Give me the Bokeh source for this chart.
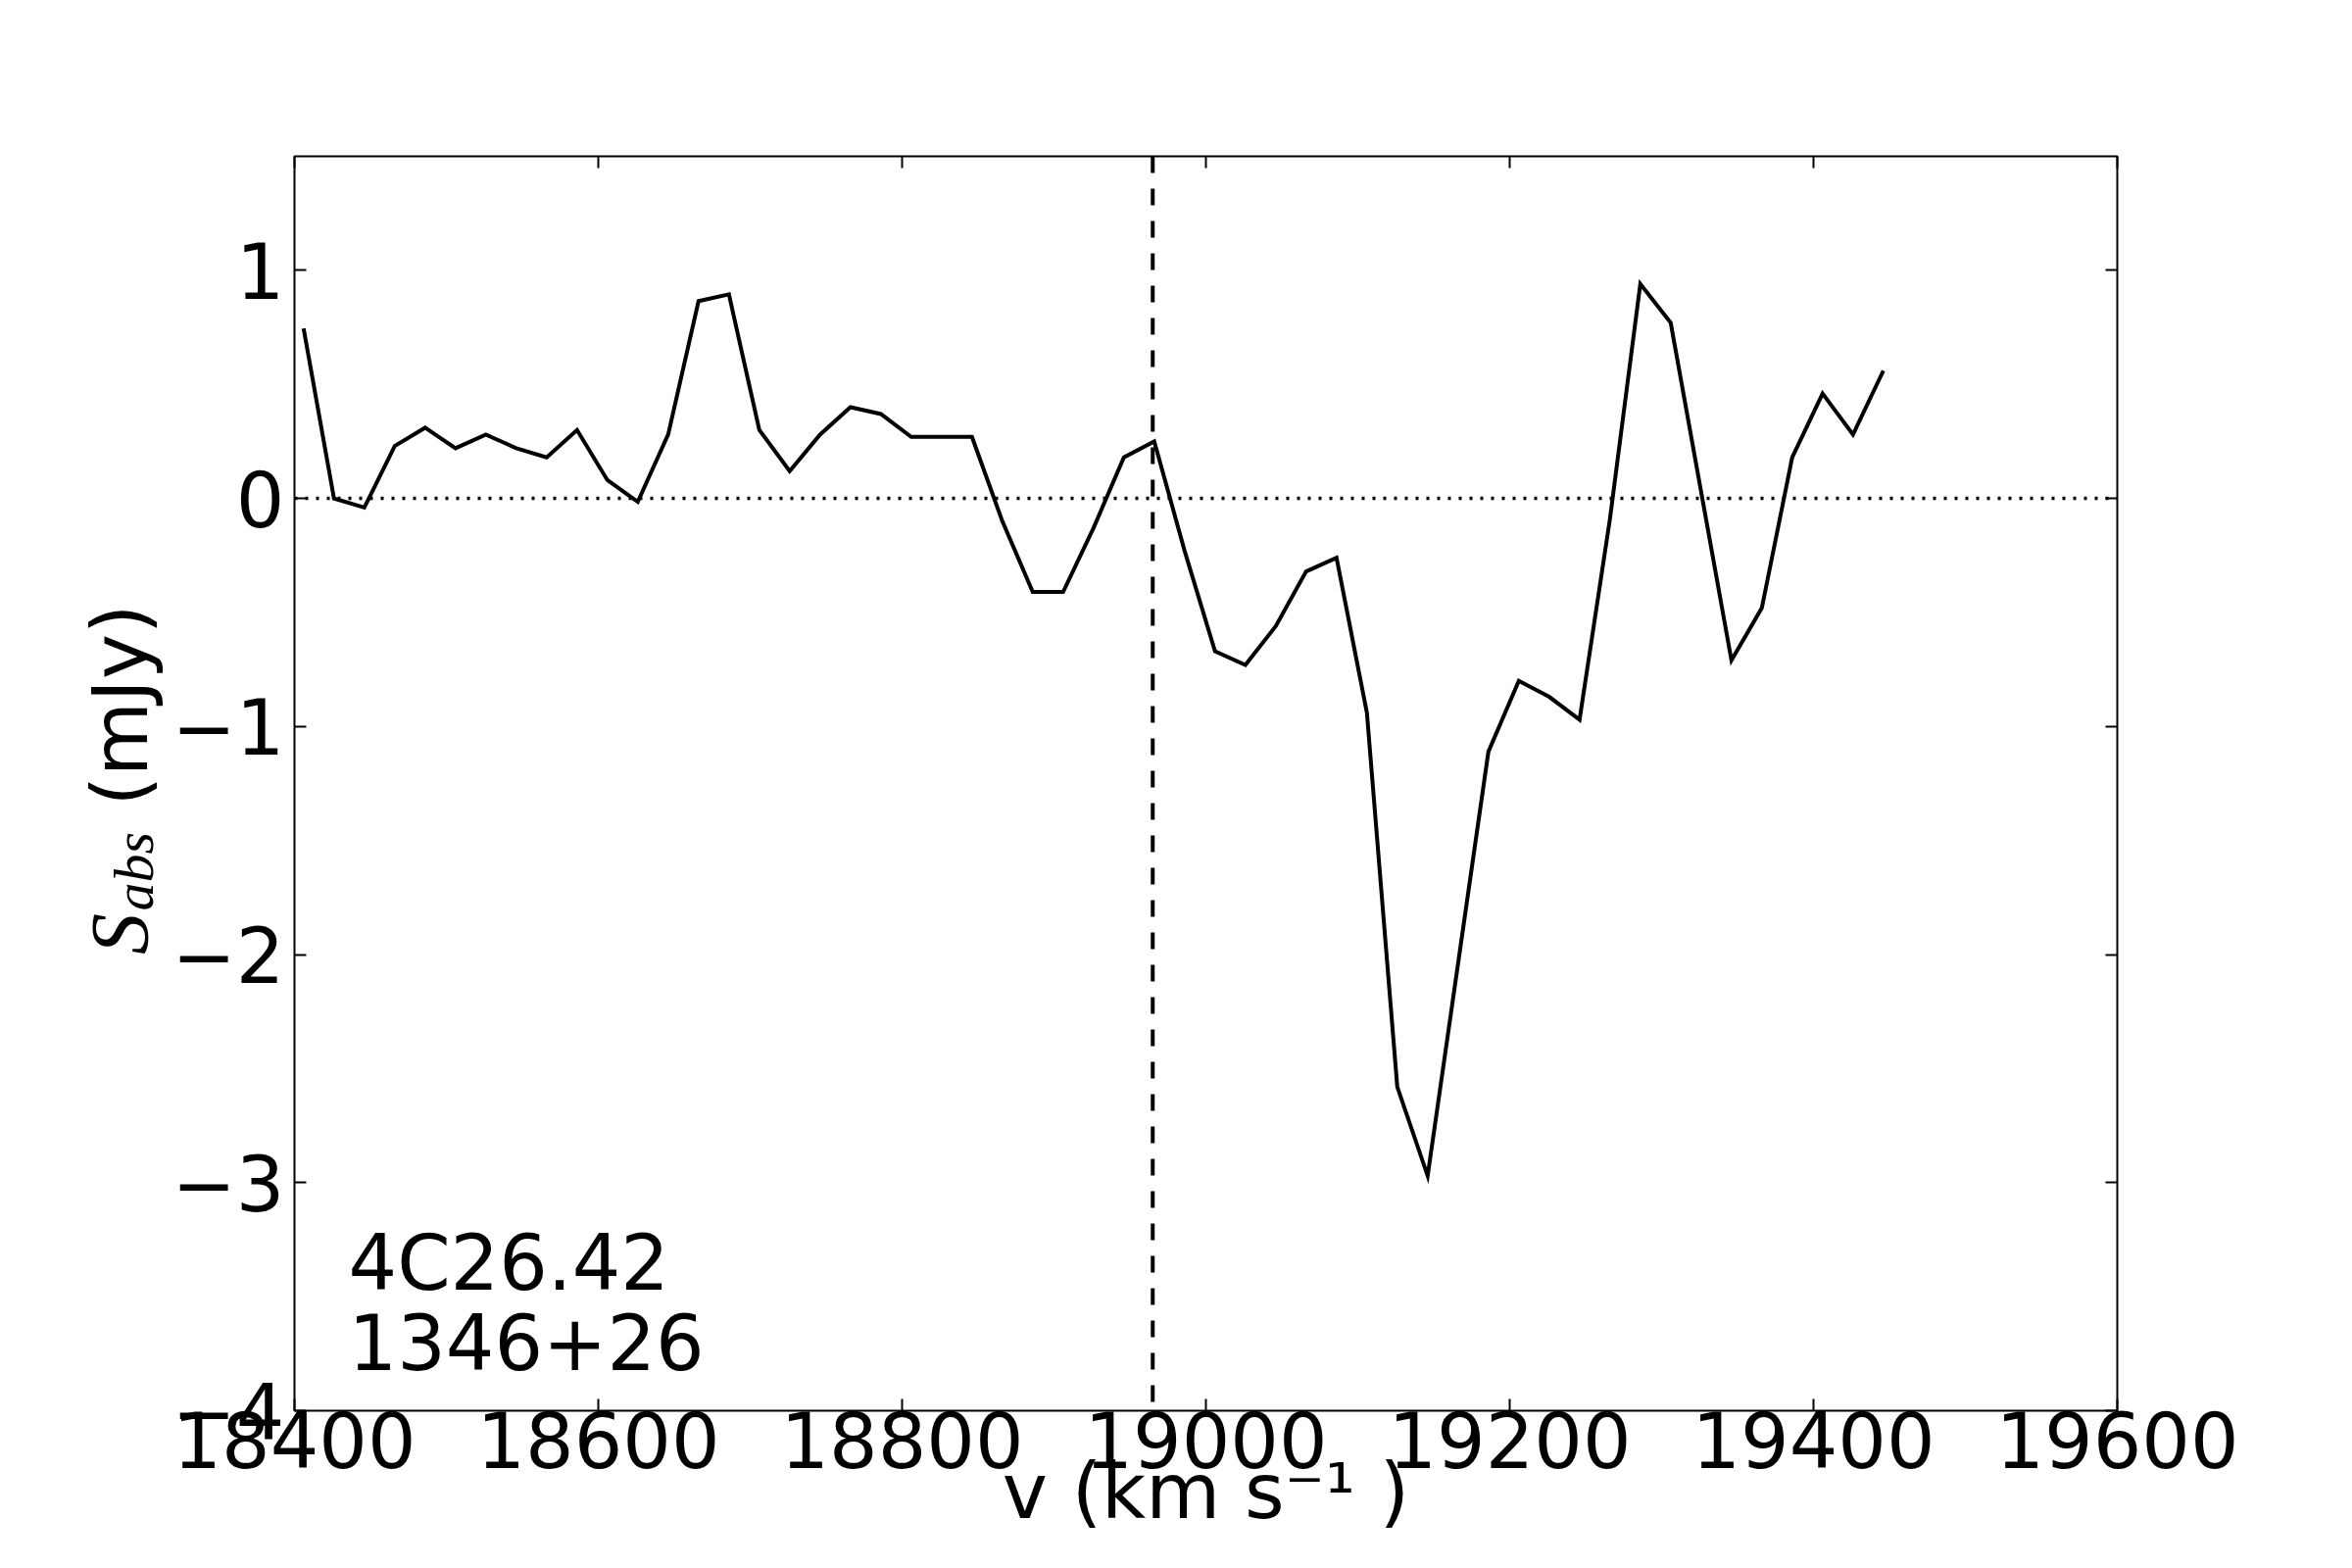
from bokeh.plotting import figure
from bokeh.layouts import row
from bokeh.models import Range1d, FixedTicker, LinearAxis, Span, Label
from bokeh.core.properties import value
from bokeh.embed import file_html
from bokeh.resources import INLINE
import math

# ---- data ----
velocity = [18406, 18426, 18446, 18466, 18486, 18506, 18526, 18546, 18566, 18586,
            18606, 18626, 18646, 18666, 18686, 18706, 18726, 18746, 18766, 18786,
            18806, 18826, 18846, 18866, 18886, 18906, 18926, 18946, 18966, 18986,
            19006, 19026, 19046, 19066, 19086, 19106, 19126, 19146, 19166, 19186,
            19206, 19226, 19246, 19266, 19286, 19306, 19326, 19346, 19366, 19386,
            19406, 19426, 19446]
s_abs = [0.745, 0.00, -0.04, 0.23, 0.31, 0.22, 0.28, 0.22, 0.18, 0.30,
         0.08, -0.015, 0.28, 0.865, 0.895, 0.30, 0.12, 0.28, 0.40, 0.37,
         0.27, 0.27, 0.27, -0.10, -0.41, -0.41, -0.13, 0.18, 0.25, -0.23,
         -0.67, -0.73, -0.56, -0.32, -0.26, -0.94, -2.58, -2.97, -2.04, -1.11,
         -0.80, -0.87, -0.97, -0.09, 0.94, 0.77, 0.03, -0.71, -0.48, 0.18,
         0.46, 0.28, 0.56]
v_sys = 18965
x_ticks = [18400, 18600, 18800, 19000, 19200, 19400, 19600]
y_ticks = [-4, -3, -2, -1, 0, 1]
y_tick_labels = ["\u22124", "\u22123", "\u22122", "\u22121", "0", "1"]
source_name = "4C26.42"
source_coord = "1346+26"
x_label = "v (km s\u207b\u00b9 )"
y_label_parts = ["S", "abs", "(mJy)"]

FONT = "DejaVu Sans"
SERIF = "Liberation Serif"
FS = "78px"

TOP, BOTTOM = 159, 158
LEFT_W = 170

y_range = Range1d(-4, 1.5)

p = figure(frame_width=1860, frame_height=1280,
           min_border_left=300 - LEFT_W, min_border_top=TOP,
           min_border_right=230, min_border_bottom=BOTTOM,
           x_range=Range1d(18400, 19600), y_range=y_range,
           output_backend="svg", toolbar_location=None,
           x_axis_location=None, y_axis_location=None)
p.grid.visible = False
p.outline_line_color = "black"
p.outline_line_width = 2
p.background_fill_color = "white"
p.border_fill_color = "white"

def make_axis(ticks, labels, show):
    ax = LinearAxis(ticker=FixedTicker(ticks=ticks))
    ax.axis_line_color = None
    ax.major_tick_in = 12
    ax.major_tick_out = 0
    ax.major_tick_line_width = 2
    ax.major_tick_line_color = "black"
    ax.minor_tick_line_color = None
    ax.major_label_text_font = FONT
    ax.major_label_text_font_size = FS
    ax.major_label_text_font_style = "normal"
    ax.major_label_text_color = "black"
    if show:
        ax.major_label_overrides = {t: l for t, l in zip(ticks, labels)}
    else:
        ax.major_label_overrides = {t: "" for t in ticks}
    return ax

xb = make_axis(x_ticks, [str(t) for t in x_ticks], True)
xb.major_label_standoff = 0
xb.axis_label = x_label
xb.axis_label_text_font = FONT
xb.axis_label_text_font_size = FS
xb.axis_label_text_font_style = "normal"
xb.axis_label_text_color = "black"
xb.axis_label_standoff = -24
p.add_layout(xb, "below")
p.add_layout(make_axis(x_ticks, None, False), "above")
yl = make_axis(y_ticks, y_tick_labels, True)
yl.major_label_standoff = 10
p.add_layout(yl, "left")
p.add_layout(make_axis(y_ticks, None, False), "right")

# reference lines
p.add_layout(Span(location=0, dimension="width", line_color="black",
                  line_width=3.5, line_dash="3 8"))
p.add_layout(Span(location=v_sys, dimension="height", line_color="black",
                  line_width=4, line_dash="17 16"))

# spectrum
p.line(velocity, s_abs, line_color="black", line_width=4, line_join="miter")

# source annotation
p.add_layout(Label(x=18435.5, y=-3.352, text=source_name, text_font=FONT,
                   text_font_size=FS, text_color="black",
                   text_align="left", text_baseline="alphabetic"))
p.add_layout(Label(x=18435.5, y=-3.696, text=source_coord, text_font=FONT,
                   text_font_size=FS, text_color="black",
                   text_align="left", text_baseline="alphabetic"))

# ---- y-axis label panel (shares the y range, so it lines up with the frame) ----
q = figure(frame_width=LEFT_W, frame_height=1280,
           min_border_left=0, min_border_right=0,
           min_border_top=TOP, min_border_bottom=BOTTOM,
           x_range=Range1d(0, LEFT_W), y_range=y_range,
           output_backend="svg", toolbar_location=None,
           x_axis_location=None, y_axis_location=None)
q.grid.visible = False
q.outline_line_color = None
q.background_fill_color = "white"
q.border_fill_color = "white"

rot = math.pi / 2
q.text(x=[122], y=[-2.0], text=[y_label_parts[0]], angle=rot,
       text_font=value(SERIF), text_font_style="italic", text_font_size="84px",
       text_color="black", text_align="left", text_baseline="alphabetic")
q.text(x=[136], y=[-1.809], text=[y_label_parts[1]], angle=rot,
       text_font=value(SERIF), text_font_style="italic", text_font_size="58px",
       text_color="black", text_align="left", text_baseline="alphabetic")
q.text(x=[122], y=[-1.349], text=[y_label_parts[2]], angle=rot,
       text_font=value(FONT), text_font_size=FS,
       text_color="black", text_align="left", text_baseline="alphabetic")

layout = row(q, p, spacing=0)
open("out.html", "w").write(file_html(layout, INLINE))
